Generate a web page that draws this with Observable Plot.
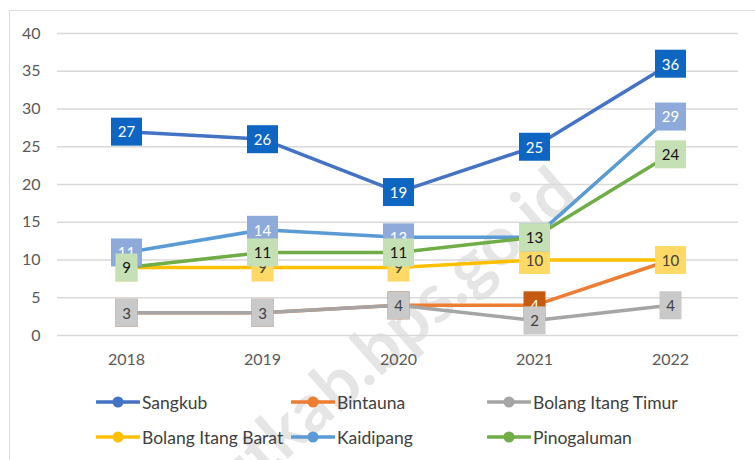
<!DOCTYPE html>
<html><head><meta charset="utf-8">
<script src="https://cdn.jsdelivr.net/npm/d3@7"></script>
<script src="https://cdn.jsdelivr.net/npm/@observablehq/plot@0.6"></script>
<style>
body{margin:0;background:#fff;font-family:Lato,"Noto Sans",sans-serif;}
#wrap{position:relative;width:755px;height:460px;overflow:hidden;background:#fff;}
#frame{position:absolute;left:9px;top:10px;right:-2px;bottom:-2px;border-top:1px solid #dedede;border-left:1px solid #dedede;pointer-events:none;}
#chart{position:absolute;left:0;top:0;}
.item{position:absolute;display:flex;align-items:center;font-size:17.5px;color:#404040;white-space:nowrap;height:22px;margin-top:-11px;}
.item svg{margin-right:2px;}
#wm{position:absolute;right:192px;top:140px;font-family:Lato,sans-serif;font-weight:bold;font-size:68px;line-height:80px;color:#e5e5e5;white-space:nowrap;transform-origin:100% 50%;transform:rotate(-41.5deg);pointer-events:none;}
</style>
</head><body>
<div id="wrap">
  <div id="wm">bolmutkab.bps.go.id</div>
  <div id="chart"></div>
  <div id="legend"></div>
  <div id="frame"></div>
</div>
<script>
const years = ["2018","2019","2020","2021","2022"];
const seriesNames = ["Sangkub","Bintauna","Bolang Itang Timur","Bolang Itang Barat","Kaidipang","Pinogaluman"];
const sangkub = [27,26,19,25,36];
const bintauna = [3,3,4,4,10];
const bolangItangTimur = [3,3,4,2,4];
const bolangItangBarat = [9,9,9,10,10];
const kaidipang = [11,14,13,13,29];
const pinogaluman = [9,11,11,13,24];
const yTicks = [0,5,10,15,20,25,30,35,40];

const lineColors = ["#4472c4","#ed7d31","#a5a5a5","#ffc000","#5b9bd5","#70ad47"];
const labelFills = ["#0f66c2","#c55a11","#c9c9c9","#ffd966","#8eaadb","#c5e0b4"];
const labelText = ["#ffffff","#ffffff","#404040","#404040","#ffffff","#111111"];

const values = [sangkub,bintauna,bolangItangTimur,bolangItangBarat,kaidipang,pinogaluman];
const rows = seriesNames.flatMap((name,i)=>values[i].map((v,j)=>({series:name,year:years[j],value:v,idx:i})));

const narrowBox = {draw(ctx){ctx.rect(-11,-14,22,28);}};
const wideBox = {draw(ctx){ctx.rect(-15.5,-14,31,28);}};

const labelMarks = seriesNames.flatMap((name,i)=>{
  const r = rows.filter(d=>d.idx===i);
  return [
    Plot.dot(r.filter(d=>d.value<10),{x:"year",y:"value",symbol:narrowBox,fill:labelFills[i],stroke:"none"}),
    Plot.dot(r.filter(d=>d.value>=10),{x:"year",y:"value",symbol:wideBox,fill:labelFills[i],stroke:"none"}),
    Plot.text(r,{x:"year",y:"value",text:d=>String(d.value),fill:labelText[i],fontSize:15,dy:1})
  ];
});

const chart = Plot.plot({
  width:755, height:380,
  marginLeft:57, marginRight:17, marginTop:33, marginBottom:45,
  x:{type:"point", domain:years, padding:0.5, label:null},
  y:{domain:[0,40], label:null},
  color:{domain:seriesNames, range:lineColors},
  style:{fontFamily:"Lato, 'Noto Sans', sans-serif", fontSize:"16px", color:"#595959", background:"transparent"},
  marks:[
    Plot.ruleY(yTicks,{stroke:"#d9d9d9",strokeWidth:1.3}),
    Plot.axisY(yTicks,{tickSize:0,tickPadding:17,fill:"#595959",fontSize:16}),
    Plot.axisX({tickSize:0,tickPadding:18,fill:"#595959",fontSize:16}),
    Plot.line(rows,{x:"year",y:"value",z:"series",stroke:"series",strokeWidth:3.5,strokeLinejoin:"round",strokeLinecap:"round"}),
    ...labelMarks
  ]
});
document.getElementById("chart").appendChild(chart);

// legend
const legendCols = [96,291,487];
const legendRows = [402,437];
const leg = document.getElementById("legend");
seriesNames.forEach((name,i)=>{
  const div = document.createElement("div");
  div.className = "item";
  div.style.left = legendCols[i%3]+"px";
  div.style.top = legendRows[Math.floor(i/3)]+"px";
  div.innerHTML = `<svg width="44" height="14"><line x1="1" x2="43" y1="7" y2="7" stroke="${lineColors[i]}" stroke-width="3.5" stroke-linecap="round"/><circle cx="22" cy="7" r="5.5" fill="${lineColors[i]}"/></svg><span>${name}</span>`;
  leg.appendChild(div);
});
</script>
</body></html>
